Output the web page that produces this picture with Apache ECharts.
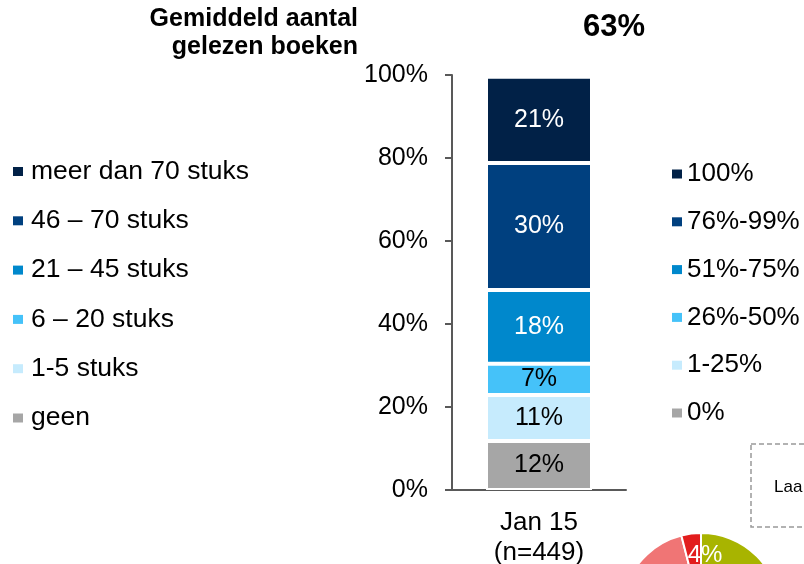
<!DOCTYPE html>
<html>
<head>
<meta charset="utf-8">
<script src="https://cdn.jsdelivr.net/npm/echarts@6/dist/echarts.min.js"></script>
<style>
  html, body { margin: 0; padding: 0; background: #fff; }
  #chart { width: 804px; height: 564px; }
</style>
</head>
<body>
<div id="chart"></div>
<script>
  // data
  const categories = ['Jan 15\n(n=449)']
  // stacked bottom -> top
  const segNames = ['geen', '1-5 stuks', '6 – 20 stuks', '21 – 45 stuks', '46 – 70 stuks', 'meer dan 70 stuks']
  const segValues = [11.8, 11.1, 7.5, 17.8, 30.6, 20.8]
  const segLabels = ['12%', '11%', '7%', '18%', '30%', '21%']
  const segColors = ['#a6a6a6', '#c6ebfd', '#45c2f9', '#0088cc', '#00407f', '#012147']
  const segLabelColors = ['#000', '#000', '#000', '#fff', '#fff', '#fff']
  const rightNames = ['0%', '1-25%', '26%-50%', '51%-75%', '76%-99%', '100%']
  const yTicks = [0, 20, 40, 60, 80, 100]
  const headline = '63%'
  const pieNames = ['groen', 'roze', 'rood']
  const pieValues = [55, 41, 4]
  const pieColors = ['#a8b400', '#f07575', '#e21d1d']

  const font = "'Liberation Sans', Arial, sans-serif"
  const chart = echarts.init(document.getElementById('chart'))

  const series = segNames.map((name, i) => ({
    name: name,
    type: 'bar',
    stack: 'total',
    barWidth: 106,
    data: [segValues[i]],
    itemStyle: { color: segColors[i], borderColor: '#fff', borderWidth: 2 },
    label: {
      show: true,
      position: 'inside',
      color: segLabelColors[i],
      fontSize: 25,
      fontFamily: font,
      formatter: () => segLabels[i]
    },
    silent: true
  }))

  // legend entries on the right side (same stack, no data)
  rightNames.forEach((name, i) => {
    series.push({
      name: name,
      type: 'bar',
      stack: 'total',
      barWidth: 106,
      data: [],
      itemStyle: { color: segColors[i] }
    })
  })

  series.push({
    type: 'pie',
    center: [701, 612],
    radius: 79,
    startAngle: 90,
    clockwise: true,
    silent: true,
    label: { show: false },
    labelLine: { show: false },
    itemStyle: { borderColor: '#fff', borderWidth: 2 },
    data: pieNames.map((n, i) => ({ name: n, value: pieValues[i], itemStyle: { color: pieColors[i] } }))
  })

  const option = {
    animation: false,
    textStyle: { fontFamily: font },
    grid: { left: 452, right: 178, top: 75, bottom: 74, outerBoundsMode: 'none' },
    legend: [
      {
        data: segNames.slice().reverse(),
        orient: 'vertical',
        left: 8,
        top: 153,
        icon: 'rect',
        itemWidth: 10,
        itemHeight: 9,
        itemGap: 22.3,
        selectedMode: false,
        itemStyle: { borderWidth: 0 },
        textStyle: { fontSize: 26.5, lineHeight: 26, color: '#000', fontFamily: font, padding: [0, 0, 0, 3] }
      },
      {
        data: rightNames.slice().reverse(),
        orient: 'vertical',
        left: 667,
        top: 156,
        icon: 'rect',
        itemWidth: 10,
        itemHeight: 9,
        itemGap: 21.8,
        selectedMode: false,
        itemStyle: { borderWidth: 0 },
        textStyle: { fontSize: 26, lineHeight: 25, color: '#000', fontFamily: font }
      }
    ],
    xAxis: {
      type: 'category',
      data: categories,
      axisTick: { show: false },
      axisLine: { lineStyle: { color: '#595959', width: 2 } },
      axisLabel: { color: '#000', fontSize: 26, lineHeight: 30, margin: 18, fontFamily: font }
    },
    yAxis: {
      type: 'value',
      min: yTicks[0],
      max: yTicks[yTicks.length - 1],
      interval: yTicks[1] - yTicks[0],
      axisLine: { show: true, lineStyle: { color: '#595959', width: 2 } },
      axisTick: { show: true, length: 7, lineStyle: { color: '#595959', width: 2 } },
      splitLine: { show: false },
      axisLabel: { color: '#000', fontSize: 25, margin: 24, fontFamily: font, formatter: '{value}%' }
    },
    graphic: [
      {
        type: 'text',
        style: {
          text: 'Gemiddeld aantal\ngelezen boeken',
          x: 358, y: 33,
          textAlign: 'right',
          textVerticalAlign: 'middle',
          lineHeight: 28,
          font: 'bold 25px ' + font,
          fill: '#000'
        }
      },
      {
        type: 'text',
        style: {
          text: headline,
          x: 614, y: 27,
          textAlign: 'center',
          textVerticalAlign: 'middle',
          font: 'bold 31px ' + font,
          fill: '#000'
        }
      },
      {
        type: 'rect',
        shape: { x: 751, y: 444, width: 80, height: 83 },
        style: { fill: 'none', stroke: '#999', lineWidth: 1.5, lineDash: [5, 3] }
      },
      {
        type: 'text',
        style: {
          text: 'Laa',
          x: 774, y: 487,
          textVerticalAlign: 'middle',
          font: '17px ' + font,
          fill: '#000'
        }
      },
      {
        type: 'text',
        z: 100,
        style: {
          text: pieValues[2] + '%',
          x: 705, y: 555,
          textAlign: 'center',
          textVerticalAlign: 'middle',
          font: '24px ' + font,
          fill: '#fff'
        }
      }
    ],
    series: series
  }
  chart.setOption(option)
</script>
</body>
</html>
